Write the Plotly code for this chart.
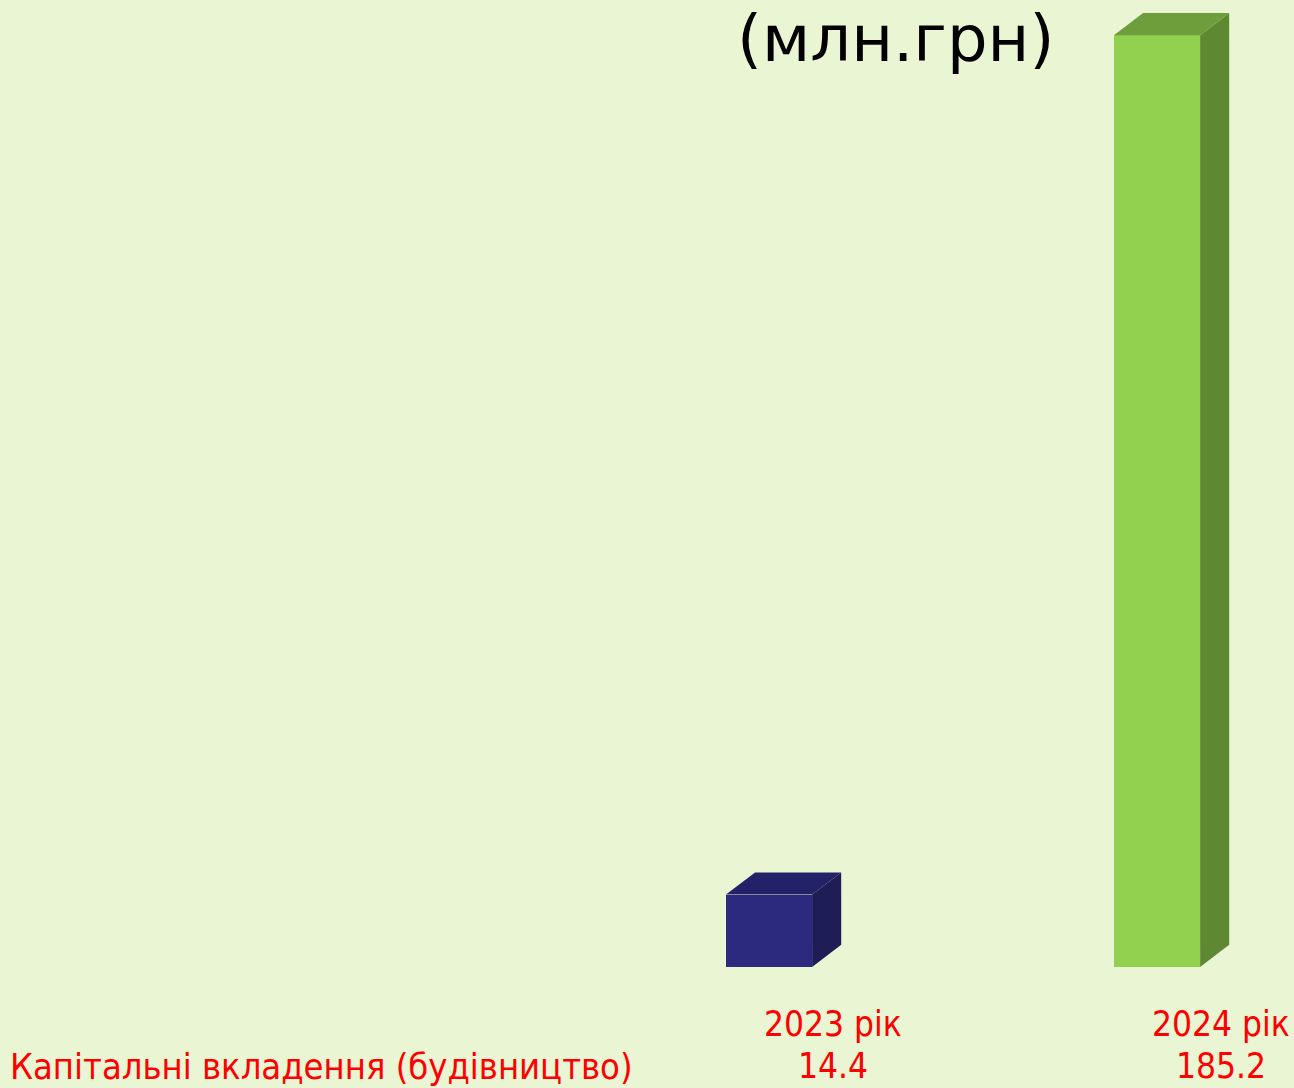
import plotly.graph_objects as go

years = ["2023 рік", "2024 рік"]
values = [14.4, 185.2]
row_label = "Капітальні вкладення (будівництво)"
unit_title = "(млн.грн)"

front_colors = ["#2B2A7E", "#92D050"]
top_colors = ["#232268", "#6E9E3C"]
side_colors = ["#1E1D55", "#5F8833"]

bar_w = 0.222
dx = 0.075
dy = 4.4

fig = go.Figure()
xs = list(range(len(values)))

for i, v in enumerate(values):
    x0 = xs[i] - bar_w / 2
    x1 = xs[i] + bar_w / 2
    # side face
    fig.add_trace(go.Scatter(
        x=[x1, x1 + dx, x1 + dx, x1, x1], y=[0, dy, v + dy, v, 0],
        fill="toself", fillcolor=side_colors[i], mode="lines",
        line=dict(width=0, color=side_colors[i]), hoverinfo="skip"))
    # top face
    fig.add_trace(go.Scatter(
        x=[x0, x0 + dx, x1 + dx, x1, x0], y=[v, v + dy, v + dy, v, v],
        fill="toself", fillcolor=top_colors[i], mode="lines",
        line=dict(width=0, color=top_colors[i]), hoverinfo="skip"))

fig.add_trace(go.Bar(x=xs, y=values, width=bar_w, marker=dict(color=front_colors, line=dict(width=0)),
                     hoverinfo="skip"))

red = "#FF0000"
lbl_font = dict(family="DejaVu Sans Condensed", size=35, color=red)
for i, (yr, v) in enumerate(zip(years, values)):
    fig.add_annotation(x=xs[i] + 0.165, y=-0.059, xref="x", yref="paper", text=yr, showarrow=False,
                       xanchor="center", yanchor="middle", font=lbl_font)
    fig.add_annotation(x=xs[i] + 0.165, y=-0.1025, xref="x", yref="paper", text=f"{v:.1f}", showarrow=False,
                       xanchor="center", yanchor="middle", font=lbl_font)

fig.add_annotation(x=8 / 1294, y=-0.1025, xref="paper", yref="paper", text=row_label, showarrow=False,
                   xanchor="left", yanchor="middle", font=dict(family="DejaVu Sans Condensed", size=36, color=red))

fig.add_annotation(x=895 / 1294, y=1.0, xref="paper", yref="paper", text=unit_title, showarrow=False,
                   xanchor="center", yanchor="top",
                   font=dict(family="DejaVu Sans", size=64, color="black"))

fig.update_xaxes(visible=False, range=[-1.982, 1.353])
fig.update_yaxes(visible=False, range=[0, 192.2])
fig.update_layout(
    paper_bgcolor="#E9F5D3",
    plot_bgcolor="#E9F5D3",
    margin=dict(l=0, r=0, t=0, b=121),
    width=1294,
    height=1088,
    showlegend=False,
    bargap=0,
)
fig.write_html("out.html", config={"displayModeBar": False},
               post_script="document.body.style.margin='0px';")
